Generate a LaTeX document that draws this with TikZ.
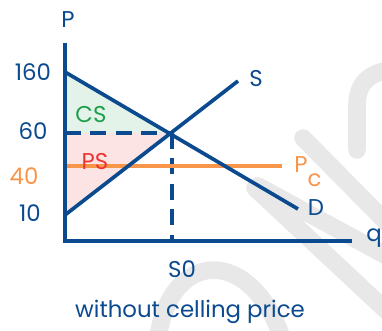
\documentclass[tikz,border=0pt]{standalone}
\usepackage{fontspec}
\setmainfont{Poppins}
\definecolor{navy}{HTML}{0B4A8F}
\definecolor{orng}{HTML}{F7954A}
\definecolor{csgreen}{HTML}{1E9E4A}
\definecolor{psred}{HTML}{EE3333}
\definecolor{wmgray}{HTML}{E8E8E8}
\begin{document}
\begin{tikzpicture}[x=0.02cm,y=-0.02cm,font=\fontsize{13}{15}\selectfont]
  \tikzset{
    ax/.style={navy,line width=2.2pt},
    crv/.style={navy,line width=2.1pt},
    guide/.style={navy,line width=2.1pt,dash pattern=on 9pt off 5.5pt},
    capline/.style={orng,line width=2.1pt},
    lbl/.style={text=navy,inner sep=1pt},
    wm/.style={wmgray,line width=10pt,line cap=round}
  }
  \useasboundingbox (0,0) rectangle (382,331);

  % faint watermark
  \draw[wm] (158,338) .. controls (170,250) and (250,245) .. (282,338);
  \draw[wm] (303,138) -- (392,228);
  \draw[wm] (258,186) -- (392,259);
  \draw[wm] (255,188) -- (392,316);
  \draw[wm] (357,150) -- (357,105) .. controls (357,85) and (368,72) .. (392,70);

  \coordinate (o) at (65,241);
  \coordinate (ytop) at (65,43);
  \coordinate (xend) at (352,241);
  \coordinate (d0) at (65,72);
  \coordinate (d1) at (298,209);
  \coordinate (s0) at (65,215);
  \coordinate (s1) at (238,81);
  \coordinate (eq) at (172,133);
  \coordinate (pe) at (65,133);
  \coordinate (qe) at (172,241);
  \coordinate (c0) at (65,166);
  \coordinate (c1) at (282,166);

  % surplus areas
  \fill[csgreen!12] (d0) -- (eq) -- (pe) -- cycle;
  \fill[psred!13] (pe) -- (eq) -- (s0) -- cycle;

  \draw[guide] (pe) -- (eq);
  \draw[guide] (eq) -- (qe);
  \draw[capline] (c0) -- (c1);
  \draw[crv] (d0) -- (d1);
  \draw[crv] (s0) -- (s1);
  \draw[ax] (ytop) -- (o) -- (xend);

  \node[lbl] (plab) at (68,20) {P};
  \node[lbl] (qlab) at (374,238) {q};
  \node[lbl] (slab) at (256,79) {S};
  \node[lbl] (dlab) at (316,208) {D};
  \node[lbl,text=orng] (pclab) at (308,172) {P\raisebox{-1.1ex}{c}};
  \node[lbl] (v160) at (33,72) {160};
  \node[lbl] (v60) at (33,131) {60};
  \node[lbl,text=orng] (v40) at (24,176) {40};
  \node[lbl] (v10) at (30,213) {10};
  \node[lbl,text=csgreen] (cs) at (91,115) {CS};
  \node[lbl,text=psred] (ps) at (95,162) {PS};
  \node[lbl] (q0) at (182,269) {S0};
  \node[lbl] (title) at (190,312) {without celling price};
\end{tikzpicture}
\end{document}
